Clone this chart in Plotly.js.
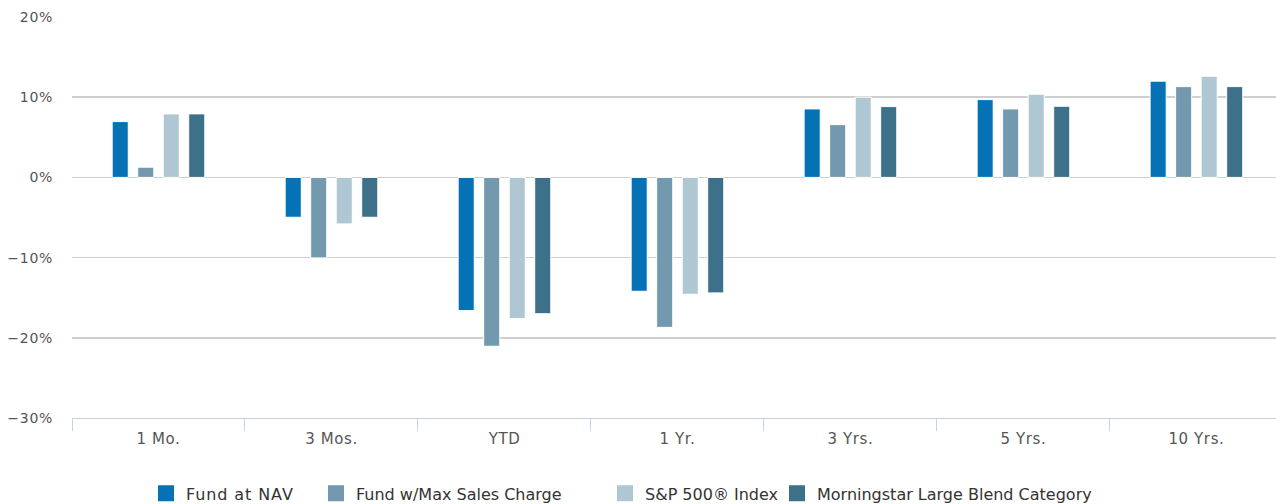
<!DOCTYPE html>
<html><head><meta charset="utf-8">
<script src="https://cdn.plot.ly/plotly-3.0.1.min.js"></script>
<style>html,body{margin:0;padding:0;background:#fff}#chart{width:1276px;height:504px}
.legendtext{letter-spacing:0.9px}
#chart .xtick text{letter-spacing:0.6px}
#chart .ytick text{letter-spacing:0.7px}
</style>
</head><body><div id="chart"></div>
<script>
const categories = ["1 Mo.", "3 Mos.", "YTD", "1 Yr.", "3 Yrs.", "5 Yrs.", "10 Yrs."];
const seriesNames = ["Fund at NAV", "Fund w/Max Sales Charge", "S&P 500® Index", "Morningstar Large Blend Category"];
const fundAtNav = [6.96, -4.97, -16.6, -14.2, 8.54, 9.70, 12.00];
const fundMaxCharge = [1.27, -10.04, -21.05, -18.7, 6.58, 8.54, 11.32];
const sp500 = [7.92, -5.80, -17.6, -14.57, 10.00, 10.37, 12.62];
const morningstar = [7.92, -4.97, -17.0, -14.4, 8.83, 8.87, 11.32];
const colors = ["#0572b6", "#7399ae", "#afc6d3", "#3d7189"];
const yTicks = [-30, -20, -10, 0, 10, 20];

const values = [fundAtNav, fundMaxCharge, sp500, morningstar];
const data = values.map((v, i) => ({
  type: "bar", x: categories, y: v, name: seriesNames[i], showlegend: false,
  marker: {color: colors[i], line: {color: "#ffffff", width: 1}},
  hoverinfo: "none"
}));
const legendIds = ["legend", "legend2", "legend3", "legend4"];
// legend entries with larger square swatches (no visible point: y is null)
seriesNames.forEach((n, i) => data.push({
  type: "scatter", mode: "markers", x: [categories[0]], y: [null], name: n, showlegend: true,
  legend: legendIds[i],
  marker: {symbol: "square", size: 16, color: colors[i]}, hoverinfo: "none"
}));

const legendLeftPx = [146, 316, 605, 777];
const layout = {
  width: 1276, height: 504,
  margin: {l: 72, r: 0, t: 17, b: 85.5, autoexpand: false},
  paper_bgcolor: "#fff", plot_bgcolor: "#fff",
  barmode: "group", bargap: 0.41, bargroupgap: 0.37,
  font: {family: "DejaVu Sans, Verdana, sans-serif", color: "#555", size: 14},
  xaxis: {
    type: "category", range: [-0.5, 6.46],
    showgrid: false, showline: true, linecolor: "#c6d4e1", linewidth: 1,
    ticks: "outside", tickson: "boundaries", ticklen: 12, tickcolor: "#c6d4e1", tickwidth: 1,
    tickfont: {size: 15, color: "#555"}, ticklabelstandoff: 7, fixedrange: true
  },
  yaxis: {
    range: [-30, 20], tickvals: yTicks, ticktext: yTicks.map(t => (t < 0 ? "\u2212" + Math.abs(t) : t) + "%"),
    showgrid: true, gridcolor: "#cfcfcf", gridwidth: 1.5, zeroline: false,
    tickfont: {size: 14, color: "#555"}, ticklabelstandoff: 18, fixedrange: true
  },
  showlegend: true,
};
legendIds.forEach((id, i) => {
  layout[id] = {orientation: "h", x: (legendLeftPx[i] - 72) / 1204, xanchor: "left",
    y: -0.188, yanchor: "middle", font: {size: 16, color: "#333"},
    itemwidth: 30, itemsizing: "trace", bgcolor: "rgba(0,0,0,0)"};
});
Plotly.newPlot("chart", data, layout, {displayModeBar: false, staticPlot: true});
</script></body></html>
